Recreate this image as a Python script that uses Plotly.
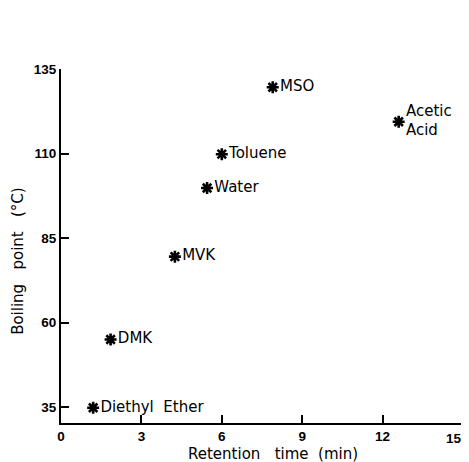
import plotly.graph_objects as go

compounds = ["Diethyl  Ether", "DMK", "MVK", "Water", "Toluene", "MSO", "Acetic<br>Acid"]
retention_time = [1.2, 1.85, 4.25, 5.45, 6.0, 7.9, 12.6]
boiling_point = [34.8, 55.0, 79.5, 99.8, 109.8, 129.6, 119.4]

x_ticks = [0, 3, 6, 9, 12, 15]
y_ticks = [35, 60, 85, 110, 135]

tick_font = dict(family="Liberation Sans", size=13.5, color="black", weight="bold")

fig = go.Figure()
fig.add_trace(go.Scatter(
    x=retention_time, y=boiling_point, text=compounds,
    mode="markers+text", textposition="middle right",
    marker=dict(symbol="asterisk", size=10, color="black",
                line=dict(width=2.6, color="black")),
    textfont=dict(family="DejaVu Sans", size=15, color="black"),
    cliponaxis=False, showlegend=False,
))

axis_common = dict(
    showgrid=False, zeroline=False, showline=True, linecolor="black", linewidth=2,
    ticks="inside", ticklen=8, tickwidth=1.5, tickcolor="black",
    tickfont=tick_font, ticklabeloverflow="allow", automargin=False,
)
# last x tick label is drawn as an annotation so it stays inside the window
x_ticktext = [str(v) for v in x_ticks[:-1]] + [""]
fig.update_xaxes(range=[0, 15], tickvals=x_ticks, ticktext=x_ticktext,
                 ticklabelstandoff=0, **axis_common)
fig.update_yaxes(range=[30.3, 135], tickvals=y_ticks, ticktext=[str(v) for v in y_ticks], **axis_common)

fig.add_annotation(text=str(x_ticks[-1]), xref="x", yref="paper", x=x_ticks[-1], y=0,
                   yshift=-15, xshift=1, showarrow=False, xanchor="right", yanchor="middle",
                   font=tick_font)

fig.add_annotation(text="Retention   time  (min)", xref="paper", yref="paper",
                   x=0.527, y=0, yshift=-31, showarrow=False,
                   xanchor="center", yanchor="middle",
                   font=dict(family="DejaVu Sans", size=15, color="black"))
fig.add_annotation(text="Boiling   point   (°C)", xref="paper", yref="paper",
                   x=0, y=0.458, xshift=-43, showarrow=False, textangle=-90,
                   xanchor="center", yanchor="middle",
                   font=dict(family="DejaVu Sans", size=15, color="black"))

fig.update_layout(
    width=461, height=454,
    margin=dict(l=53, r=6, t=61, b=39, autoexpand=False),
    plot_bgcolor="white", paper_bgcolor="white",
)
fig.write_html("out.html")
